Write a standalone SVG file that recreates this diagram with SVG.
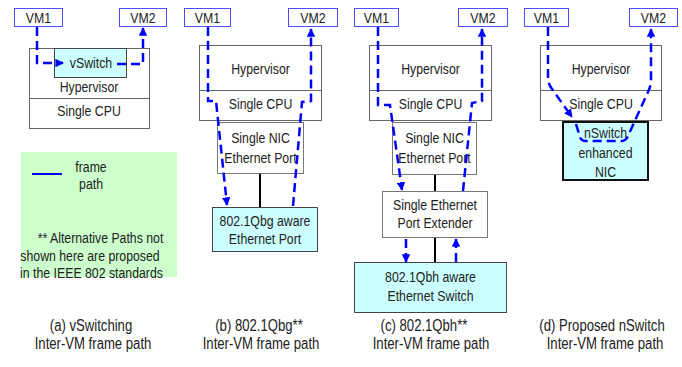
<svg xmlns="http://www.w3.org/2000/svg" width="682" height="367" viewBox="0 0 682 367">
  <defs>
    <marker id="arrow" viewBox="0 0 10 10" refX="9" refY="5" markerWidth="3.4" markerHeight="3.4" orient="auto" markerUnits="strokeWidth">
      <path d="M0,0 L10,5 L0,10 Z" fill="#0000ff"/>
    </marker>
    <style>
      /* narrow sans look: each label is squeezed horizontally by its own transform */
      text { font-family: "Liberation Sans", Arial, sans-serif; font-size: 15px; fill: #222; text-anchor: middle; }
      .cap { font-size: 16px; }
      .vm { fill: #ffffff; stroke: #4d4dff; stroke-width: 1; }
      .host { fill: #ffffff; stroke: #666666; stroke-width: 1; }
      .nic { fill: #ffffff; stroke: #777777; stroke-width: 1; }
      .aware { fill: #ccffff; stroke: #444444; stroke-width: 1; }
      .nswitch { fill: #ccffff; stroke: #111111; stroke-width: 2; }
      .link { stroke: #000000; stroke-width: 2; fill: none; }
      .path { stroke: #0000ff; stroke-width: 2.5; fill: none; stroke-dasharray: 9 5; }
      .legend { fill: #ccffcc; stroke: none; }
    </style>
  </defs>

  <!-- (a) vSwitching -->
  <g id="a-vm1"><rect class="vm" x="14.5" y="8.5" width="48" height="18"/><text transform="translate(38.5,22.5) scale(.82,1)">VM1</text></g>
  <g id="a-vm2"><rect class="vm" x="119.5" y="8.5" width="47" height="18"/><text transform="translate(143,22.5) scale(.82,1)">VM2</text></g>
  <g id="a-host">
    <rect class="host" x="29.5" y="48.5" width="120" height="80"/>
    <line x1="29.5" y1="98.5" x2="149.5" y2="98.5" stroke="#666666"/>
    <text transform="translate(89,92) scale(.82,1)">Hypervisor</text>
    <text transform="translate(89,115.5) scale(.82,1)">Single CPU</text>
  </g>
  <g id="a-vswitch"><rect class="aware" x="54.5" y="48.5" width="72" height="29" stroke="#666666"/><text transform="translate(91,68) scale(.82,1)">vSwitch</text></g>

  <!-- (b) 802.1Qbg -->
  <g id="b-vm1"><rect class="vm" x="184.5" y="8.5" width="46" height="18"/><text transform="translate(207.5,22.5) scale(.82,1)">VM1</text></g>
  <g id="b-vm2"><rect class="vm" x="288.5" y="8.5" width="49" height="18"/><text transform="translate(313,22.5) scale(.82,1)">VM2</text></g>
  <g id="b-host">
    <rect class="host" x="199.5" y="45.5" width="122" height="75"/>
    <line x1="199.5" y1="90.5" x2="321.5" y2="90.5" stroke="#666666"/>
    <text transform="translate(260.5,73.5) scale(.82,1)">Hypervisor</text>
    <text transform="translate(260.5,108.5) scale(.82,1)">Single CPU</text>
  </g>
  <g id="b-nic"><rect class="nic" x="217.5" y="122.5" width="86" height="51"/><text transform="translate(260.5,143) scale(.82,1)">Single NIC</text><text transform="translate(260.5,163) scale(.82,1)">Ethernet Port</text></g>
  <g id="b-port"><rect class="aware" x="212.5" y="207.5" width="105" height="44"/><text transform="translate(265,225.5) scale(.82,1)">802.1Qbg aware</text><text transform="translate(265,243.5) scale(.82,1)">Ethernet Port</text></g>

  <!-- (c) 802.1Qbh -->
  <g id="c-vm1"><rect class="vm" x="354.5" y="8.5" width="44" height="18"/><text transform="translate(376.5,22.5) scale(.82,1)">VM1</text></g>
  <g id="c-vm2"><rect class="vm" x="458.5" y="8.5" width="49" height="18"/><text transform="translate(483,22.5) scale(.82,1)">VM2</text></g>
  <g id="c-host">
    <rect class="host" x="369.5" y="45.5" width="122" height="75"/>
    <line x1="369.5" y1="90.5" x2="491.5" y2="90.5" stroke="#666666"/>
    <text transform="translate(430.5,73.5) scale(.82,1)">Hypervisor</text>
    <text transform="translate(430.5,108.5) scale(.82,1)">Single CPU</text>
  </g>
  <g id="c-nic"><rect class="nic" x="392.5" y="122.5" width="84" height="52"/><text transform="translate(434.5,143) scale(.82,1)">Single NIC</text><text transform="translate(434.5,163) scale(.82,1)">Ethernet Port</text></g>
  <g id="c-extender"><rect class="nic" x="382.5" y="191.5" width="105" height="46"/><text transform="translate(435,209.5) scale(.82,1)">Single Ethernet</text><text transform="translate(435,228) scale(.82,1)">Port Extender</text></g>
  <g id="c-switch"><rect class="aware" x="354.5" y="262.5" width="152" height="50"/><text transform="translate(430.5,282) scale(.82,1)">802.1Qbh aware</text><text transform="translate(430.5,300.5) scale(.82,1)">Ethernet Switch</text></g>

  <!-- (d) nSwitch -->
  <g id="d-vm1"><rect class="vm" x="524.5" y="8.5" width="44" height="18"/><text transform="translate(546.5,22.5) scale(.82,1)">VM1</text></g>
  <g id="d-vm2"><rect class="vm" x="629.5" y="8.5" width="48" height="18"/><text transform="translate(653.5,22.5) scale(.82,1)">VM2</text></g>
  <g id="d-host">
    <rect class="host" x="540.5" y="45.5" width="121" height="75"/>
    <line x1="540.5" y1="90.5" x2="661.5" y2="90.5" stroke="#666666"/>
    <text transform="translate(601,73.5) scale(.82,1)">Hypervisor</text>
    <text transform="translate(601,108.5) scale(.82,1)">Single CPU</text>
  </g>
  <g id="d-nic"><rect class="nswitch" x="563" y="122" width="85" height="58"/><text transform="translate(605.5,137.5) scale(.82,1)">nSwitch</text><text transform="translate(605.5,157.5) scale(.82,1)">enhanced</text><text transform="translate(605.5,177) scale(.82,1)">NIC</text></g>

  <!-- legend -->
  <g id="legend">
    <rect class="legend" x="21" y="152" width="156" height="125"/>
    <line x1="32" y1="174" x2="62" y2="174" stroke="#0000ff" stroke-width="2"/>
    <text transform="translate(91,172) scale(.82,1)">frame</text>
    <text transform="translate(91,189) scale(.82,1)">path</text>
    <text transform="translate(100.5,243) scale(.82,1)">** Alternative Paths not</text>
    <text transform="translate(90,260.5) scale(.82,1)">shown here are proposed</text>
    <text transform="translate(91.5,277.5) scale(.82,1)">in the IEEE 802 standards</text>
  </g>

  <!-- captions -->
  <g id="captions">
    <text class="cap" transform="translate(91,331) scale(.82,1)">(a) vSwitching</text>
    <text class="cap" transform="translate(93,349) scale(.82,1)">Inter-VM frame path</text>
    <text class="cap" transform="translate(259,331) scale(.82,1)">(b) 802.1Qbg**</text>
    <text class="cap" transform="translate(261,349) scale(.82,1)">Inter-VM frame path</text>
    <text class="cap" transform="translate(424,331) scale(.82,1)">(c) 802.1Qbh**</text>
    <text class="cap" transform="translate(431,349) scale(.82,1)">Inter-VM frame path</text>
    <text class="cap" transform="translate(602,331) scale(.82,1)">(d) Proposed nSwitch</text>
    <text class="cap" transform="translate(605,349) scale(.82,1)">Inter-VM frame path</text>
  </g>

  <!-- connectors -->
  <g id="connectors">
    <line class="link" x1="260" y1="174" x2="260" y2="207"/>
    <line class="link" x1="435" y1="175" x2="435" y2="191"/>
    <line class="link" x1="435" y1="238" x2="435" y2="262"/>

    <!-- (a) frame path -->
    <path class="path" d="M37,27 L37,63 L63,63" marker-end="url(#arrow)"/>
    <path class="path" d="M117,64 L143,64 L143,28" marker-end="url(#arrow)"/>

    <!-- (b) frame path -->
    <path class="path" d="M208,27 L208,101 L216,101 L227,205" marker-end="url(#arrow)"/>
    <path class="path" d="M293,206 L302,102 L311,101 L311,29" marker-end="url(#arrow)"/>

    <!-- (c) frame path -->
    <path class="path" d="M378,27 L378,105 L390,105 L402,190" marker-end="url(#arrow)"/>
    <path class="path" d="M463,191 L472,103 L482,101 L482,29" marker-end="url(#arrow)"/>
    <path class="path" d="M406,239 L406,262" marker-end="url(#arrow)"/>
    <path class="path" d="M456,262 L456,239" marker-end="url(#arrow)"/>

    <!-- (d) frame path -->
    <path class="path" d="M548,27 L548,78 Q548,84 552,89 L572,117" marker-end="url(#arrow)"/>
    <path class="path" d="M576,124 L580,137 Q581,141 586,141 L622,141 Q626,141 628,136 L648,92 Q651,86 651,80 L651,29" marker-end="url(#arrow)"/>
  </g>
</svg>
